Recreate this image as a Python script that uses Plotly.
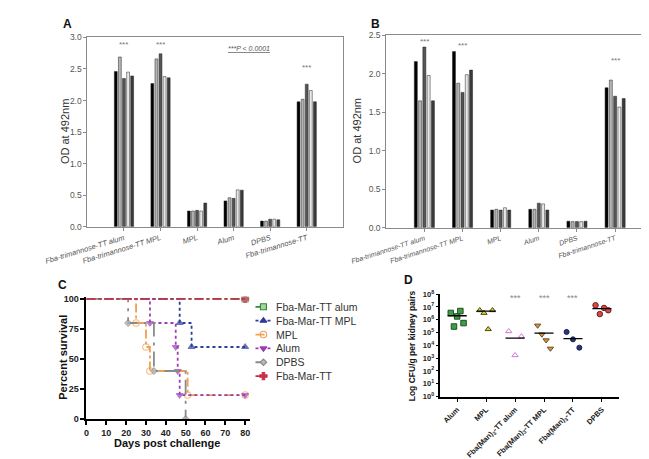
import plotly.graph_objects as go
import numpy as np

W, H = 649, 459
FONT = "Liberation Sans, Arial, sans-serif"

# ---------------- Data ----------------
groups_ab = ["Fba-trimannose-TT alum", "Fba-trimannose-TT MPL", "MPL", "Alum", "DPBS", "Fba-trimannose-TT"]
bar_colors = ["#000000", "#b4b4b4", "#555555", "#e8e8e8", "#3a3a3a"]

A_s1 = [2.46, 2.27, 0.25, 0.41, 0.09, 1.98]
A_s2 = [2.69, 2.66, 0.25, 0.46, 0.09, 2.02]
A_s3 = [2.35, 2.74, 0.26, 0.45, 0.12, 2.26]
A_s4 = [2.45, 2.38, 0.25, 0.585, 0.12, 2.16]
A_s5 = [2.39, 2.36, 0.375, 0.58, 0.11, 1.98]

B_s1 = [2.16, 2.29, 0.23, 0.24, 0.085, 1.82]
B_s2 = [1.65, 1.88, 0.24, 0.24, 0.08, 1.92]
B_s3 = [2.35, 1.76, 0.23, 0.32, 0.08, 1.71]
B_s4 = [1.98, 1.99, 0.26, 0.31, 0.08, 1.57]
B_s5 = [1.65, 2.05, 0.23, 0.23, 0.085, 1.68]

# Survival (Kaplan-Meier steps)
surv_names = ["Fba-Mar-TT alum", "Fba-Mar-TT MPL", "MPL", "Alum", "DPBS", "Fba-Mar-TT"]
t_fba_alum = [0, 80];                    s_fba_alum = [100, 100]
t_fba_mpl = [0, 47, 53, 80];             s_fba_mpl = [100, 80, 60, 60]
t_mpl = [0, 25, 30, 32, 51, 80];         s_mpl = [100, 80, 60, 40, 20, 20]
t_alum = [0, 32, 45, 46, 47, 80];        s_alum = [100, 80, 60, 40, 20, 20]
t_dpbs = [0, 21, 34, 50];                s_dpbs = [100, 80, 40, 0]
t_fba = [0, 80];                         s_fba = [100, 100]

# Kidney fungal burden (log10 CFU/g)
d_groups = ["Alum", "MPL", "Fba(Man)<sub>3</sub>-TT alum", "Fba(Man)<sub>3</sub>-TT MPL",
            "Fba(Man)<sub>3</sub>-TT", "DPBS"]
d_alum = [6.53, 5.47, 6.26, 6.68, 5.74]
d_mpl = [6.74, 6.53, 5.26, 6.74]
d_fba_alum = [5.10, 3.23, 4.70]
d_fba_mpl = [5.55, 4.85, 4.40, 3.75]
d_fba = [5.05, 4.47, 3.82]
d_dpbs = [7.13, 6.44, 6.92, 6.74]
d_medians = [6.31, 6.67, 4.57, 4.95, 4.52, 6.87]

# ---------------- Figure ----------------
fig = go.Figure()

def px_x(p):
    return p / W

def px_y(p):
    return 1 - p / H

A_series = [A_s1, A_s2, A_s3, A_s4, A_s5]
B_series = [B_s1, B_s2, B_s3, B_s4, B_s5]
for i, vals in enumerate(A_series):
    fig.add_trace(go.Bar(x=groups_ab, y=vals, marker=dict(color=bar_colors[i], line=dict(color="#222", width=0.5)),
                         xaxis="x", yaxis="y", showlegend=False))
for i, vals in enumerate(B_series):
    fig.add_trace(go.Bar(x=groups_ab, y=vals, marker=dict(color=bar_colors[i], line=dict(color="#222", width=0.5)),
                         xaxis="x2", yaxis="y2", showlegend=False))

# Survival curves
surv = [
    (t_fba_alum, s_fba_alum, "#2e8b3e", "dashdot", "square", "#a6d49c", 6),
    (t_fba_mpl, s_fba_mpl, "#2b3c9c", "dot", "triangle-up", "#2b3c9c", 6),
    (t_mpl, s_mpl, "#f0a050", "dashdot", "circle-open", "#f0a050", 6.5),
    (t_alum, s_alum, "#9a3fb3", "dot", "triangle-down", "#9a3fb3", 6),
    (t_dpbs, s_dpbs, "#8a8a8a", "longdashdot", "diamond", "#b8b8b8", 5),
    (t_fba, s_fba, "#c8304c", "dashdot", "cross", "#c8304c", 6),
]
for name, (t, s, col, dash, sym, fill, size) in zip(surv_names, surv):
    sizes = [0] + [size] * (len(t) - 1)
    fig.add_trace(go.Scatter(x=t, y=s, mode="lines+markers", name=name, line_shape="hv",
                             line=dict(color=col, width=1.8, dash=dash),
                             marker=dict(symbol=sym, size=sizes, color=fill, line=dict(color=col, width=1.1)),
                             xaxis="x3", yaxis="y3", showlegend=False))

# Manual legend for panel C (pixel-space helper axis)
leg_x0, leg_x1 = 214, 340
leg_top = 293
leg_step = 14.2
for k, (name, (t, s, col, dash, sym, fill, size)) in enumerate(zip(surv_names, surv)):
    yy = leg_top + 7 + k * leg_step
    fig.add_trace(go.Scatter(x=[219, 236], y=[yy, yy], mode="lines",
                             line=dict(color=col, width=1.8, dash="dot" if dash == "dot" else "dash"),
                             xaxis="x5", yaxis="y5", showlegend=False, hoverinfo="skip"))
    fig.add_trace(go.Scatter(x=[227.5], y=[yy], mode="markers",
                             marker=dict(symbol=sym, size=size, color=fill, line=dict(color=col, width=1.1)),
                             xaxis="x5", yaxis="y5", showlegend=False, hoverinfo="skip"))

# Kidney burden scatter
d_sets = [d_alum, d_mpl, d_fba_alum, d_fba_mpl, d_fba, d_dpbs]
d_style = [
    ("square", "#3e9e48", "#1f4f22", 5.5),
    ("triangle-up", "#dcd040", "#4a4a10", 5.5),
    ("triangle-up-open", "#d27ad2", "#d27ad2", 5.5),
    ("triangle-down", "#d8944a", "#6a4a20", 5.5),
    ("circle", "#2d3578", "#1a1f50", 5),
    ("circle", "#d84848", "#6a1f1f", 5.5),
]
for gi, vals in enumerate(d_sets):
    n = len(vals)
    offs = np.linspace(-0.22, 0.22, n) if n > 1 else np.array([0.0])
    xs = gi + offs
    sym, fc, lc, sz = d_style[gi]
    fig.add_trace(go.Scatter(x=xs, y=[10 ** v for v in vals], mode="markers",
                             marker=dict(symbol=sym, size=sz, color=fc, line=dict(color=lc, width=1)),
                             xaxis="x4", yaxis="y4", showlegend=False))
    fig.add_trace(go.Scatter(x=[gi - 0.33, gi + 0.33], y=[10 ** d_medians[gi]] * 2, mode="lines",
                             line=dict(color="black", width=1.3), xaxis="x4", yaxis="y4", showlegend=False))

gray_axis = dict(showline=True, linecolor="#8a8a8a", linewidth=1, mirror=True, ticks="outside",
                 ticklen=3, tickcolor="#8a8a8a", showgrid=False, zeroline=False)

fig.update_layout(
    width=W, height=H, margin=dict(l=0, r=0, t=0, b=0),
    paper_bgcolor="white", plot_bgcolor="rgba(0,0,0,0)",
    font=dict(family=FONT, color="#333"),
    showlegend=False,
    barmode="group", bargap=0.44, bargroupgap=0.3,
    xaxis=dict(domain=[px_x(39), px_x(313)], anchor="y", range=[-1, 6], tickangle=-17,
               tickfont=dict(size=7.5, color="#555", style="italic"), **gray_axis),
    yaxis=dict(domain=[px_y(218), px_y(24)], anchor="x", range=[0, 3], dtick=0.5, tickformat=".1f",
               tickfont=dict(size=8.5, color="#555"), **gray_axis),
    xaxis2=dict(domain=[px_x(359), px_x(645)], anchor="y2", range=[-1, 6], tickangle=-18,
                tickfont=dict(size=7, color="#555", style="italic"), **gray_axis),
    yaxis2=dict(domain=[px_y(219), px_y(22)], anchor="x2", range=[0, 2.5], dtick=0.5, tickformat=".1f",
                tickfont=dict(size=8.5, color="#555"), **gray_axis),
    xaxis3=dict(domain=[px_x(38), px_x(213)], anchor="y3", range=[0, 82.4], tickvals=list(range(0, 81, 10)),
                showline=True, linecolor="black", linewidth=2, ticks="outside", ticklen=4, tickwidth=1.5,
                tickcolor="black", showgrid=False, zeroline=False,
                tickfont=dict(size=9, color="#222", weight="bold")),
    yaxis3=dict(domain=[px_y(415), px_y(289.5)], anchor="x3", range=[0, 102], tickvals=[0, 25, 50, 75, 100],
                showline=True, linecolor="black", linewidth=2, ticks="outside", ticklen=4, tickwidth=1.5,
                tickcolor="black", showgrid=False, zeroline=False,
                tickfont=dict(size=9, color="#222", weight="bold")),
    xaxis4=dict(domain=[px_x(417), px_x(608)], anchor="y4", range=[-0.58, 5.58],
                tickvals=list(range(6)), ticktext=d_groups, tickangle=-45,
                showline=True, linecolor="black", linewidth=1.5, ticks="outside", ticklen=4, tickwidth=1.2,
                tickcolor="black", showgrid=False, zeroline=False,
                tickfont=dict(size=7.5, color="#222", weight="bold")),
    yaxis4=dict(domain=[px_y(392), px_y(287)], anchor="x4", type="log", range=[0, 8],
                tickvals=[10 ** k for k in range(9)], ticktext=[f"10<sup>{k}</sup>" for k in range(9)],
                showline=True, linecolor="black", linewidth=1.5, ticks="outside", ticklen=3, tickwidth=1.2,
                tickcolor="black", showgrid=False, zeroline=False,
                tickfont=dict(size=7.5, color="#222", weight="bold")),
    xaxis5=dict(domain=[px_x(leg_x0), px_x(leg_x1)], anchor="y5", range=[leg_x0, leg_x1], visible=False,
                fixedrange=True),
    yaxis5=dict(domain=[px_y(380), px_y(leg_top)], anchor="x5", range=[380, leg_top], visible=False,
                fixedrange=True),
)

ann = []
def add_text(x, y, text, size, color="#333", bold=False, angle=0, xanchor="center", yanchor="middle",
             xref="paper", yref="paper", italic=False):
    ann.append(dict(x=x, y=y, xref=xref, yref=yref, text=text, showarrow=False, textangle=angle,
                    xanchor=xanchor, yanchor=yanchor,
                    font=dict(size=size, color=color, family=FONT, weight="bold" if bold else "normal",
                              style="italic" if italic else "normal")))

# Panel labels
add_text(px_x(18), px_y(10), "A", 12, "#111", bold=True)
add_text(px_x(348), px_y(10), "B", 12, "#111", bold=True)
add_text(px_x(12), px_y(278), "C", 12, "#111", bold=True)
add_text(px_x(383), px_y(273), "D", 12, "#111", bold=True)

# Axis titles
add_text(px_x(15), px_y(121), "OD at 492nm", 11, "#333", angle=-90)
add_text(px_x(328), px_y(120), "OD at 492nm", 11, "#333", angle=-90)
add_text(px_x(12), px_y(352), "Percent survival", 11, "#111", bold=True, angle=-90)
add_text(px_x(124), px_y(440), "Days post challenge", 11, "#111", bold=True)
add_text(px_x(386), px_y(340), "Log CFU/g per kidney pairs", 8.5, "#111", bold=True, angle=-90)

# Legend labels for C
for k, name in enumerate(surv_names):
    add_text(px_x(239), px_y(leg_top + 7 + k * leg_step), name, 10.5, "#333", xanchor="left")

# significance stars
for gi, yv in [(0, 2.88), (1, 2.88), (5, 2.52)]:
    add_text(groups_ab[gi], yv, "***", 8, "#777", xref="x", yref="y")
for gi, yv in [(0, 2.42), (1, 2.37), (5, 2.18)]:
    add_text(groups_ab[gi], yv, "***", 8, "#777", xref="x2", yref="y2")
for gi in [2, 3, 4]:
    add_text(gi, 7.7, "***", 9, "#888", xref="x4", yref="y4")
add_text(px_x(212), px_y(35), "<u>***P &lt; 0.0001</u>", 7, "#555", italic=True)

fig.update_layout(annotations=ann)
fig.write_html("out.html")
